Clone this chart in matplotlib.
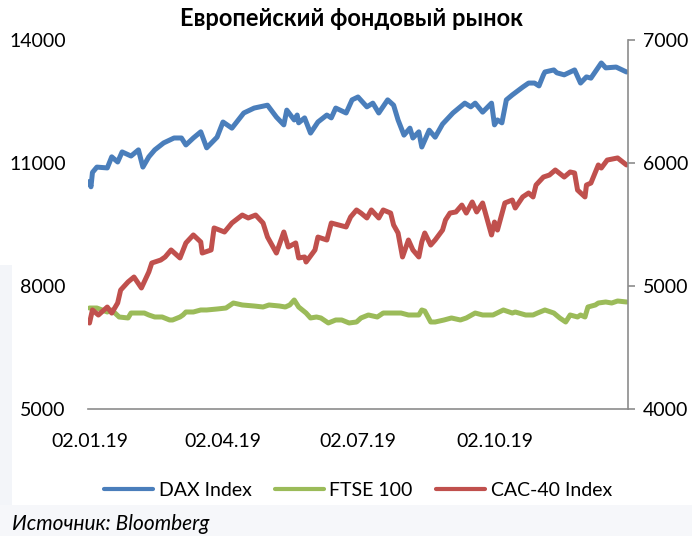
import matplotlib
matplotlib.use("Agg")
import matplotlib.pyplot as plt
import matplotlib.patches as mpatches
import pandas as pd

plt.rcParams['font.family'] = ['Lato', 'DejaVu Sans']

title = "Европейский фондовый рынок"
source = "Источник: Bloomberg"

dax_dates = ["2019-01-02", "2019-01-03", "2019-01-04", "2019-01-07", "2019-01-14", "2019-01-17",
             "2019-01-21", "2019-01-24", "2019-01-30", "2019-02-04", "2019-02-07", "2019-02-11",
             "2019-02-15", "2019-02-21", "2019-02-28", "2019-03-05", "2019-03-08", "2019-03-13",
             "2019-03-18", "2019-03-22", "2019-03-29", "2019-04-02", "2019-04-08", "2019-04-16",
             "2019-04-23", "2019-05-02", "2019-05-08", "2019-05-13", "2019-05-15", "2019-05-20",
             "2019-05-22", "2019-05-23", "2019-05-27", "2019-05-31", "2019-06-05", "2019-06-11",
             "2019-06-14", "2019-06-17", "2019-06-24", "2019-06-28", "2019-07-02", "2019-07-08",
             "2019-07-12", "2019-07-16", "2019-07-22", "2019-07-26", "2019-07-29", "2019-08-02",
             "2019-08-06", "2019-08-08", "2019-08-12", "2019-08-14", "2019-08-19", "2019-08-23",
             "2019-08-28", "2019-09-04", "2019-09-12", "2019-09-16", "2019-09-19", "2019-09-24",
             "2019-09-30", "2019-10-02", "2019-10-04", "2019-10-07", "2019-10-10", "2019-10-14",
             "2019-10-21", "2019-10-25", "2019-10-29", "2019-11-01", "2019-11-04", "2019-11-05",
             "2019-11-11", "2019-11-13", "2019-11-18", "2019-11-25", "2019-11-29", "2019-12-03",
             "2019-12-06", "2019-12-13", "2019-12-16", "2019-12-23", "2019-12-30"]
dax_values = [10550, 10420, 10770, 10900, 10880, 11150,
              11025, 11270, 11170, 11320, 10900, 11150,
              11320, 11490, 11610, 11610, 11440, 11610,
              11760, 11370, 11630, 12000, 11850, 12220,
              12340, 12410, 12120, 11930, 12290, 12050,
              12170, 11980, 12100, 11730, 12000, 12170,
              12100, 12340, 12220, 12540, 12610, 12370,
              12460, 12220, 12540, 12410, 12050, 11680,
              11850, 11610, 11760, 11390, 11800, 11630,
              11950, 12220, 12460, 12370, 12460, 12240,
              12460, 11930, 12050, 11980, 12540, 12660,
              12850, 12950, 12950, 12880, 13150, 13220,
              13270, 13200, 13150, 13270, 12950, 13100,
              13070, 13440, 13320, 13340, 13220]

ftse_dates = ["2019-01-02", "2019-01-07", "2019-01-14", "2019-01-17", "2019-01-22", "2019-01-28",
              "2019-01-30", "2019-02-04", "2019-02-08", "2019-02-11", "2019-02-15", "2019-02-20",
              "2019-02-25", "2019-02-27", "2019-03-04", "2019-03-06", "2019-03-08", "2019-03-13",
              "2019-03-18", "2019-03-22", "2019-03-29", "2019-04-04", "2019-04-09", "2019-04-15",
              "2019-04-23", "2019-04-29", "2019-05-03", "2019-05-10", "2019-05-14", "2019-05-17",
              "2019-05-20", "2019-05-23", "2019-05-28", "2019-05-31", "2019-06-04", "2019-06-07",
              "2019-06-12", "2019-06-17", "2019-06-21", "2019-06-26", "2019-07-01", "2019-07-04",
              "2019-07-09", "2019-07-15", "2019-07-19", "2019-07-24", "2019-07-31", "2019-08-05",
              "2019-08-12", "2019-08-14", "2019-08-16", "2019-08-20", "2019-08-23", "2019-08-29",
              "2019-09-03", "2019-09-09", "2019-09-13", "2019-09-19", "2019-09-24", "2019-10-01",
              "2019-10-08", "2019-10-14", "2019-10-16", "2019-10-23", "2019-10-28", "2019-10-31",
              "2019-11-05", "2019-11-11", "2019-11-15", "2019-11-19", "2019-11-22", "2019-11-27",
              "2019-11-29", "2019-12-02", "2019-12-04", "2019-12-09", "2019-12-11", "2019-12-16",
              "2019-12-20", "2019-12-24", "2019-12-30"]
ftse_values = [7463, 7463, 7366, 7415, 7244, 7220,
               7341, 7341, 7341, 7293, 7244, 7244,
               7171, 7171, 7244, 7293, 7366, 7366,
               7415, 7415, 7439, 7463, 7585, 7537,
               7512, 7488, 7537, 7512, 7488, 7537,
               7659, 7488, 7341, 7220, 7244, 7220,
               7098, 7171, 7171, 7098, 7122, 7220,
               7293, 7244, 7341, 7341, 7341, 7293,
               7293, 7415, 7390, 7122, 7122, 7171,
               7220, 7171, 7220, 7341, 7293, 7293,
               7415, 7341, 7366, 7293, 7293, 7341,
               7415, 7341, 7220, 7122, 7293, 7244,
               7293, 7244, 7488, 7537, 7585, 7610,
               7585, 7634, 7610]

cac_dates = ["2019-01-02", "2019-01-04", "2019-01-08", "2019-01-14", "2019-01-17", "2019-01-21",
             "2019-01-23", "2019-01-28", "2019-02-01", "2019-02-06", "2019-02-11", "2019-02-13",
             "2019-02-19", "2019-02-22", "2019-02-26", "2019-03-04", "2019-03-08", "2019-03-13",
             "2019-03-18", "2019-03-19", "2019-03-25", "2019-03-27", "2019-04-03", "2019-04-08",
             "2019-04-15", "2019-04-19", "2019-04-24", "2019-04-29", "2019-05-02", "2019-05-08",
             "2019-05-13", "2019-05-16", "2019-05-21", "2019-05-23", "2019-05-27", "2019-05-28",
             "2019-06-03", "2019-06-05", "2019-06-11", "2019-06-14", "2019-06-24", "2019-06-27",
             "2019-07-01", "2019-07-04", "2019-07-08", "2019-07-11", "2019-07-16", "2019-07-19",
             "2019-07-24", "2019-07-26", "2019-07-29", "2019-08-01", "2019-08-05", "2019-08-08",
             "2019-08-12", "2019-08-14", "2019-08-16", "2019-08-20", "2019-08-23", "2019-08-28",
             "2019-08-30", "2019-09-02", "2019-09-06", "2019-09-10", "2019-09-13", "2019-09-17",
             "2019-09-20", "2019-09-24", "2019-09-30", "2019-10-02", "2019-10-04", "2019-10-09",
             "2019-10-14", "2019-10-16", "2019-10-21", "2019-10-25", "2019-10-28", "2019-10-30",
             "2019-11-04", "2019-11-08", "2019-11-12", "2019-11-18", "2019-11-22", "2019-11-25",
             "2019-11-27", "2019-12-02", "2019-12-03", "2019-12-06", "2019-12-11", "2019-12-13",
             "2019-12-17", "2019-12-24", "2019-12-30"]
cac_values = [4699, 4805, 4764, 4829, 4780, 4862,
              4967, 5033, 5073, 4984, 5114, 5187,
              5211, 5236, 5293, 5228, 5350, 5415,
              5358, 5268, 5293, 5472, 5439, 5512,
              5577, 5553, 5577, 5512, 5398, 5268,
              5439, 5317, 5350, 5228, 5236, 5195,
              5293, 5398, 5374, 5512, 5480, 5561,
              5618, 5593, 5553, 5618, 5553, 5618,
              5593, 5496, 5431, 5236, 5374, 5293,
              5236, 5358, 5431, 5333, 5374, 5455,
              5537, 5593, 5602, 5658, 5593, 5683,
              5602, 5675, 5415, 5520, 5455, 5675,
              5699, 5634, 5724, 5756, 5724, 5821,
              5886, 5902, 5943, 5886, 5927, 5919,
              5780, 5724, 5821, 5837, 5984, 5959,
              6024, 6041, 5984]

left_ticks = [5000, 8000, 11000, 14000]
right_ticks = [4000, 5000, 6000, 7000]
x_ticks = ["2019-01-02", "2019-04-02", "2019-07-02", "2019-10-02"]
x_tick_labels = ["02.01.19", "02.04.19", "02.07.19", "02.10.19"]
series_names = ["DAX Index", "FTSE 100", "CAC-40 Index"]

c_blue = "#4A7EBB"
c_green = "#9BBB59"
c_red = "#C0504D"
spine_c = "#8C8C8C"

fig = plt.figure(figsize=(6.92, 5.36), dpi=100)

# faint background of the source slide
fig.patches.append(mpatches.Rectangle((0, 0), 1, 31/536, transform=fig.transFigure,
                                      facecolor="#F6F7FA", edgecolor='none', zorder=-10))
fig.patches.append(mpatches.Rectangle((0, 31/536), 12/692, 240/536, transform=fig.transFigure,
                                      facecolor="#F3F5F9", edgecolor='none', zorder=-10))

ax = fig.add_axes([88/692, 1-409/536, (628-88)/692, (409-40)/536])
ax2 = ax.twinx()
ax.patch.set_alpha(0)
ax2.patch.set_alpha(0)

lw = 3.6
kw = dict(lw=lw, solid_joinstyle='round', solid_capstyle='round')
l1, = ax.plot(pd.to_datetime(dax_dates), dax_values, color=c_blue, **kw)
l2, = ax.plot(pd.to_datetime(ftse_dates), ftse_values, color=c_green, **kw)
l3, = ax2.plot(pd.to_datetime(cac_dates), cac_values, color=c_red, **kw)

ax.set_xlim(pd.Timestamp("2019-01-01"), pd.Timestamp("2019-12-31"))
ax.set_ylim(5000, 14000)
ax2.set_ylim(4000, 7000)
ax.set_yticks(left_ticks)
ax2.set_yticks(right_ticks)
ax.set_xticks(pd.to_datetime(x_ticks))
ax.set_xticklabels(x_tick_labels)

for a in (ax, ax2):
    for s in a.spines.values():
        s.set_visible(False)
ax.spines['bottom'].set_visible(True)
ax.spines['bottom'].set_color(spine_c)
ax.spines['bottom'].set_linewidth(1.2)
ax2.spines['right'].set_visible(True)
ax2.spines['right'].set_color(spine_c)
ax2.spines['right'].set_linewidth(1.2)

fs = 14
ax.tick_params(axis='y', length=0, pad=16, labelsize=fs, colors='black')
ax.tick_params(axis='x', length=0, pad=17, labelsize=fs)
ax2.tick_params(axis='y', length=5, width=1.2, color=spine_c, pad=6, labelsize=fs)

fig.text(351/692, 1-18/536, title, ha='center', va='center', fontsize=17, fontweight='bold')

leg = fig.legend([l1, l2, l3], series_names, loc='center', bbox_to_anchor=(358/692, 1-490/536),
                 ncol=3, frameon=False, fontsize=fs, handlelength=2.5, handletextpad=0.3,
                 columnspacing=1.2)
for h in leg.get_lines():
    h.set_linewidth(3.0)

fig.text(12/692, 1-524/536, source, ha='left', va='center', fontsize=15, style='italic')

fig.savefig("out.png", dpi=100)
